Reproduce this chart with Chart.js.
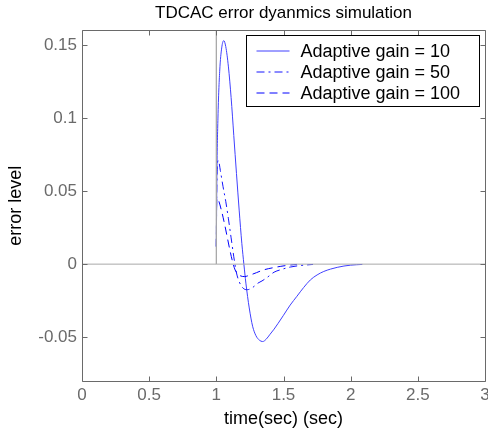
<!DOCTYPE html>
<html>
<head>
<meta charset="utf-8">
<script src="https://cdn.jsdelivr.net/npm/chart.js@4/dist/chart.umd.min.js"></script>
<style>
  html, body { margin: 0; padding: 0; background: #fff; }
  #wrap { width: 488px; height: 432px; }
</style>
</head>
<body>
<div id="wrap"><canvas id="c" width="488" height="432"></canvas></div>
<script>
// ---- data ----
const chartTitle = 'TDCAC error dyanmics simulation';
const xTitle = 'time(sec) (sec)';
const yTitle = 'error level';
const xTicks = [0, 0.5, 1, 1.5, 2, 2.5, 3];
const yTicks = [-0.05, 0, 0.05, 0.1, 0.15];
const xRange = [0, 3];
const yRange = [-0.08, 0.16];

const seriesNames = ['Adaptive gain = 10', 'Adaptive gain = 50', 'Adaptive gain = 100'];

const gain10T = [1.0, 1.004, 1.012, 1.025, 1.04, 1.055, 1.07, 1.09, 1.11, 1.13, 1.15, 1.17, 1.19, 1.205, 1.22, 1.245, 1.27, 1.295, 1.32, 1.345, 1.37, 1.40, 1.43, 1.46, 1.50, 1.55, 1.60, 1.65, 1.70, 1.75, 1.80, 1.85, 1.90, 1.95, 2.0, 2.087];
const gain10V = [0.012, 0.06, 0.10, 0.132, 0.148, 0.153, 0.149, 0.135, 0.114, 0.088, 0.062, 0.037, 0.014, 0.0, -0.013, -0.03, -0.0425, -0.049, -0.052, -0.053, -0.0515, -0.048, -0.0445, -0.0405, -0.035, -0.028, -0.022, -0.016, -0.0108, -0.0074, -0.005, -0.0034, -0.0022, -0.0013, -0.0007, -0.0002];

const gain50T = [1.0, 1.003, 1.008, 1.015, 1.03, 1.05, 1.07, 1.09, 1.11, 1.13, 1.15, 1.17, 1.20, 1.23, 1.27, 1.31, 1.34, 1.38, 1.43, 1.48, 1.55, 1.62, 1.72];
const gain50V = [0.012, 0.05, 0.068, 0.071, 0.064, 0.053, 0.043, 0.031, 0.018, 0.005, -0.006, -0.012, -0.0165, -0.0175, -0.016, -0.013, -0.0115, -0.009, -0.0055, -0.0038, -0.002, -0.001, -0.0002];

const gain100T = [1.0, 1.002, 1.006, 1.015, 1.04, 1.06, 1.08, 1.10, 1.12, 1.14, 1.17, 1.21, 1.25, 1.30, 1.35, 1.42, 1.48, 1.55, 1.60];
const gain100V = [0.012, 0.04, 0.045, 0.044, 0.036, 0.028, 0.019, 0.010, 0.002, -0.004, -0.0075, -0.0085, -0.0075, -0.0058, -0.004, -0.0025, -0.0015, -0.0006, -0.0002];

// grey reference trace (zero level with the step at t = 1)
const refT = [0, 1, 1, 1, 3];
const refV = [0, 0, 0.2, 0, 0];

const pts = (t, v) => t.map((x, i) => ({ x: x, y: v[i] }));

const FONT = "'Liberation Sans', Arial, sans-serif";
const AXIS_GREY = '#6a6a6a';

// box + inward ticks on all four sides
const boxTicksPlugin = {
  id: 'boxTicks',
  afterDatasetsDraw(chart) {
    const { ctx, chartArea: a, scales } = chart;
    const L = 5;
    ctx.save();
    ctx.strokeStyle = AXIS_GREY;
    ctx.lineWidth = 1;
    ctx.beginPath();
    const l = Math.round(a.left) + 0.5, r = Math.round(a.right) + 0.5;
    const t = Math.round(a.top) + 0.5, b = Math.round(a.bottom) + 0.5;
    ctx.rect(l, t, r - l, b - t);
    xTicks.forEach(v => {
      const px = Math.round(scales.x.getPixelForValue(v)) + 0.5;
      ctx.moveTo(px, b); ctx.lineTo(px, b - L);
      ctx.moveTo(px, t); ctx.lineTo(px, t + L);
    });
    yTicks.forEach(v => {
      const py = Math.round(scales.y.getPixelForValue(v)) + 0.5;
      ctx.moveTo(l, py); ctx.lineTo(l + L, py);
      ctx.moveTo(r, py); ctx.lineTo(r - L, py);
    });
    ctx.stroke();
    ctx.restore();
  }
};

// boxed legend in the upper right of the plot area
const boxLegendPlugin = {
  id: 'boxLegend',
  afterDraw(chart) {
    const { ctx, chartArea: a } = chart;
    const w = 233, h = 71;
    const x0 = Math.round(a.right) - 6 - w + 0.5;
    const y0 = Math.round(a.top) + 5 + 0.5;
    ctx.save();
    ctx.fillStyle = '#fff';
    ctx.strokeStyle = '#000';
    ctx.lineWidth = 1;
    ctx.fillRect(x0, y0, w, h);
    ctx.strokeRect(x0, y0, w, h);
    ctx.font = '18px ' + FONT;
    ctx.textBaseline = 'middle';
    ctx.textAlign = 'left';
    const legendSets = seriesNames.map(n => chart.data.datasets.find(d => d.label === n));
    legendSets.forEach((ds, i) => {
      const yy = y0 + 15.5 + i * 21;
      ctx.strokeStyle = ds.borderColor;
      ctx.lineWidth = 1;
      ctx.setLineDash(ds.borderDash || []);
      ctx.beginPath();
      ctx.moveTo(x0 + 10, Math.round(yy));
      ctx.lineTo(x0 + 43, Math.round(yy));
      ctx.stroke();
      ctx.setLineDash([]);
      ctx.fillStyle = '#000';
      ctx.fillText(ds.label, x0 + 54, yy + 1);
    });
    ctx.restore();
  }
};

const lineDefaults = { pointRadius: 0, fill: false, borderWidth: 1 };
const smooth = { cubicInterpolationMode: 'monotone' };

new Chart(document.getElementById('c'), {
  type: 'line',
  data: {
    datasets: [
      Object.assign({ label: 'ref', data: pts(refT, refV), borderColor: '#a8a8a8', tension: 0 }, lineDefaults),
      Object.assign({ label: seriesNames[2], data: pts(gain100T, gain100V), borderColor: '#0000ff', borderDash: [8, 5] }, lineDefaults, smooth),
      Object.assign({ label: seriesNames[1], data: pts(gain50T, gain50V), borderColor: '#1515ff', borderDash: [8, 4, 2, 4] }, lineDefaults, smooth),
      Object.assign({ label: seriesNames[0], data: pts(gain10T, gain10V), borderColor: '#4040ff' }, lineDefaults, smooth)
    ]
  },
  options: {
    responsive: false,
    animation: false,
    devicePixelRatio: 1,
    layout: { padding: { left: 0, right: 3, top: 0, bottom: 0 } },
    plugins: {
      legend: { display: false },
      tooltip: { enabled: false },
      title: {
        display: true,
        fullSize: false,
        text: chartTitle,
        color: '#000',
        font: { family: FONT, size: 17, weight: 'normal' },
        padding: { top: 3, bottom: 7 }
      }
    },
    scales: {
      x: {
        type: 'linear',
        min: xRange[0], max: xRange[1],
        afterBuildTicks: s => { s.ticks = xTicks.map(v => ({ value: v })); },
        afterFit: s => { s.height = 51; s.paddingRight = 0; s.paddingLeft = 0; },
        grid: { display: false, drawTicks: false },
        border: { display: false },
        ticks: {
          color: AXIS_GREY, padding: 4, maxRotation: 0, autoSkip: false,
          font: { family: FONT, size: 17 },
          callback: v => String(v)
        },
        title: {
          display: true, text: xTitle, color: '#000',
          font: { family: FONT, size: 18 },
          padding: { top: 0, bottom: 2 }
        }
      },
      y: {
        type: 'linear',
        min: yRange[0], max: yRange[1],
        afterBuildTicks: s => { s.ticks = yTicks.map(v => ({ value: v })); },
        afterFit: s => { s.width = 82; s.paddingTop = 0; s.paddingBottom = 0; },
        grid: { display: false, drawTicks: false },
        border: { display: false },
        ticks: {
          color: AXIS_GREY, padding: 5, autoSkip: false,
          font: { family: FONT, size: 17 },
          callback: v => String(v)
        },
        title: {
          display: true, text: yTitle, color: '#000',
          font: { family: FONT, size: 18 },
          padding: { top: 5, bottom: 0 }
        }
      }
    }
  },
  plugins: [boxTicksPlugin, boxLegendPlugin]
});
</script>
</body>
</html>
